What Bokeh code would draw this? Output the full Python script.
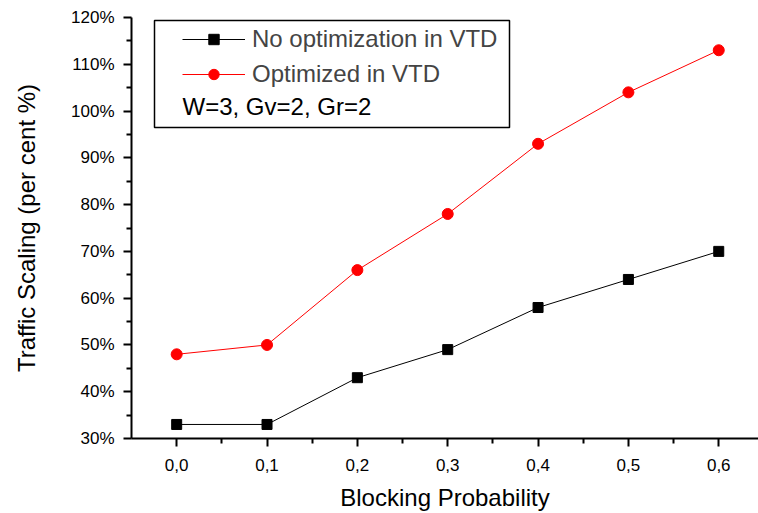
from bokeh.plotting import figure
from bokeh.models import (ColumnDataSource, FixedTicker, CustomJSTickFormatter, Legend,
                          LegendItem, BoxAnnotation, Label, Range1d)
from bokeh.embed import file_html
from bokeh.resources import INLINE

# ---- data ----
blocking_prob = [0.0, 0.1, 0.2, 0.3, 0.4, 0.5, 0.6]
no_optimization = [33, 33, 43, 49, 58, 64, 70]
optimized = [48, 50, 66, 78, 93, 104, 113]
x_ticks = [0.0, 0.1, 0.2, 0.3, 0.4, 0.5, 0.6]
x_minor = [0.05, 0.15, 0.25, 0.35, 0.45, 0.55]
y_ticks = [30, 40, 50, 60, 70, 80, 90, 100, 110, 120]
y_minor = [35, 45, 55, 65, 75, 85, 95, 105, 115]
series_names = ["No optimization in VTD", "Optimized in VTD"]
note = "W=3, Gv=2, Gr=2"

FONT = "Liberation Sans"

src = ColumnDataSource(dict(x=blocking_prob, a=no_optimization, b=optimized))

p = figure(width=758, height=513, output_backend="svg", toolbar_location=None,
           x_range=Range1d(-0.05, 0.644), y_range=Range1d(30, 120),
           min_border_left=131, min_border_right=0, min_border_top=17,
           min_border_bottom=73)
p.outline_line_color = None
p.xgrid.visible = False
p.ygrid.visible = False
p.background_fill_color = "white"
p.border_fill_color = "white"

l1 = p.line("x", "a", source=src, line_color="black", line_width=1)
s1 = p.scatter("x", "a", source=src, marker="square", size=10,
               fill_color="black", line_color="black")
l2 = p.line("x", "b", source=src, line_color="#ff0000", line_width=1)
s2 = p.scatter("x", "b", source=src, marker="circle", size=11,
               fill_color="#ff0000", line_color="#ff0000")

for ax in (p.xaxis[0], p.yaxis[0]):
    ax.axis_line_width = 2
    ax.major_tick_line_width = 2
    ax.minor_tick_line_width = 2
    ax.major_tick_in = 0
    ax.major_tick_out = 8
    ax.minor_tick_in = 0
    ax.minor_tick_out = 5
    ax.major_label_text_font = FONT
    ax.major_label_text_font_size = "17px"
    ax.major_label_text_color = "black"
    ax.axis_label_text_font = FONT
    ax.axis_label_text_font_size = "24px"
    ax.axis_label_text_font_style = "normal"
    ax.axis_label_text_color = "black"

p.xaxis.ticker = FixedTicker(ticks=x_ticks, minor_ticks=x_minor)
p.yaxis.ticker = FixedTicker(ticks=y_ticks, minor_ticks=y_minor)
p.xaxis.formatter = CustomJSTickFormatter(code="return tick.toFixed(1).replace('.', ',');")
p.yaxis.formatter = CustomJSTickFormatter(code="return tick.toFixed(0) + '%';")
p.xaxis.axis_label = "Blocking Probability"
p.yaxis.axis_label = "Traffic Scaling (per cent %)"
p.xaxis.major_label_standoff = 12
p.xaxis.axis_label_standoff = 10
p.yaxis.major_label_standoff = 9
p.yaxis.axis_label_standoff = 28

box = BoxAnnotation(left=23, right=378, top=418, bottom=311,
                    left_units="screen", right_units="screen",
                    top_units="screen", bottom_units="screen",
                    fill_alpha=0, line_color="black", line_alpha=1.0,
                    line_width=1.5, level="annotation")
p.add_layout(box)

legend = Legend(items=[LegendItem(label=series_names[0], renderers=[l1, s1]),
                       LegendItem(label=series_names[1], renderers=[l2, s2])],
                location=(51, 350), padding=0, margin=0, spacing=7,
                glyph_width=63, glyph_height=26, label_height=26,
                label_standoff=7, label_text_font=FONT,
                label_text_font_size="24px", border_line_color=None,
                background_fill_alpha=0)
p.add_layout(legend)

p.add_layout(Label(x=51, y=332, x_units="screen", y_units="screen", text=note,
                   text_font=FONT, text_font_size="24px", text_baseline="middle",
                   text_color="black", level="overlay"))

open("out.html", "w").write(file_html(p, INLINE))
